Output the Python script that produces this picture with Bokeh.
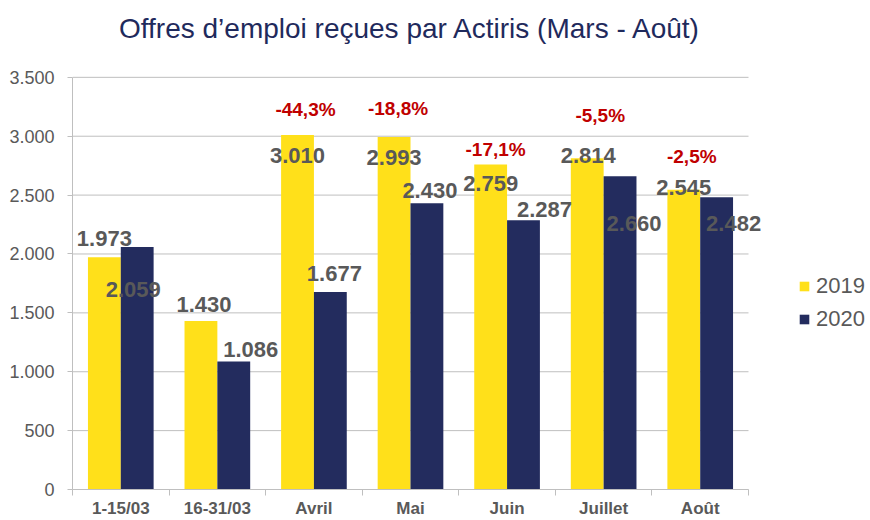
from bokeh.plotting import figure
from bokeh.models import (ColumnDataSource, LabelSet, Label, Range1d, FixedTicker,
                          Legend, LegendItem)
from bokeh.core.properties import value
from bokeh.embed import file_html
from bokeh.resources import INLINE

# ---- data ----
categories = ["1-15/03", "16-31/03", "Avril", "Mai", "Juin", "Juillet", "Août"]
values_2019 = [1973, 1430, 3010, 2993, 2759, 2814, 2545]
values_2020 = [2059, 1086, 1677, 2430, 2287, 2660, 2482]
pct_labels = ["", "", "-44,3%", "-18,8%", "-17,1%", "-5,5%", "-2,5%"]
y_ticks = [0, 500, 1000, 1500, 2000, 2500, 3000, 3500]
y_tick_labels = ["0", "500", "1.000", "1.500", "2.000", "2.500", "3.000", "3.500"]
series_names = ["2019", "2020"]
title_text = "Offres d\u2019emploi reçues par Actiris (Mars - Août)"

# ---- style / layout (label nudges in screen pixels, as in the original) ----
YELLOW = "#FFE01A"
NAVY = "#232C5E"
GREY_TXT = "#595959"
GRID = "#BFBFBF"
FONT = "Liberation Sans"
BAR_W = 0.34
W, H = 870, 520
FRAME_L, FRAME_R = 72, 748          # visible axis area in pixels (x)
AX_TOP, AX_BOTTOM = 77, 490         # visible axis area in pixels (y)
Y_MAX = 3500
lab19_dx = [0, 3, 0, 0, 0, 1, 0]
lab19_dy = [19, 17, -20, -20, -19, 3, 2]
lab20_dx = [-4, 17, 4, 3, 21, 14, 17]
lab20_dy = [-42, 12, 19, 13, 11, -47, -26]
pct_dx = [0, 0, 8, 4, 5, 13, 8]
pct_dy = [0, 0, 26, 29, 15, 43, 33]

def fmt(v):
    return f"{v:,}".replace(",", ".")

n = len(categories)
centers = [i + 0.5 for i in range(n)]
x19 = [c - BAR_W / 2 for c in centers]
x20 = [c + BAR_W / 2 for c in centers]
# the frame runs to the canvas right/top edges so that texts beyond the axis area are not clipped
x_end = n * (W - FRAME_L) / (FRAME_R - FRAME_L)
y_end = Y_MAX * AX_BOTTOM / (AX_BOTTOM - AX_TOP)

src19 = ColumnDataSource(dict(x=x19, top=values_2019, text=[fmt(v) for v in values_2019],
                              dx=lab19_dx, dy=lab19_dy))
src20 = ColumnDataSource(dict(x=x20, top=values_2020, text=[fmt(v) for v in values_2020],
                              dx=lab20_dx, dy=lab20_dy))
srcp = ColumnDataSource(dict(x=x19, top=values_2019, text=pct_labels, dx=pct_dx, dy=pct_dy))
srcg = ColumnDataSource(dict(y=y_ticks, x0=[0] * len(y_ticks), x1=[n] * len(y_ticks)))

p = figure(width=W, height=H, output_backend="svg", toolbar_location=None, title=None,
           x_range=Range1d(0, x_end), y_range=Range1d(0, y_end),
           min_border_left=FRAME_L, min_border_right=0, min_border_top=0,
           min_border_bottom=H - AX_BOTTOM, background_fill_color="white",
           border_fill_color="white", outline_line_color=None)

# title
p.add_layout(Label(x=n / 2, y=Y_MAX, y_offset=49, text=title_text, text_align="center",
                   text_baseline="middle", text_font=FONT, text_font_size="28px",
                   text_color="#1F2A5C"))

# horizontal gridlines, limited to the category area
p.segment(x0="x0", x1="x1", y0="y", y1="y", source=srcg, line_color=GRID, line_width=1)

r19 = p.vbar(x="x", top="top", width=BAR_W, source=src19, fill_color=YELLOW, line_color=None)
r20 = p.vbar(x="x", top="top", width=BAR_W, source=src20, fill_color=NAVY, line_color=None)

# axes
p.xaxis.bounds = (0, n)
p.xaxis.ticker = FixedTicker(ticks=centers, minor_ticks=list(range(n + 1)))
p.xaxis.major_label_overrides = {c: cat for c, cat in zip(centers, categories)}
p.xaxis.major_tick_out = 0
p.xaxis.major_tick_in = 0
p.xaxis.minor_tick_out = 6
p.xaxis.minor_tick_in = 0
p.xaxis.minor_tick_line_color = GRID
p.xaxis.axis_line_color = GRID
p.xaxis.major_label_text_font = FONT
p.xaxis.major_label_text_font_size = "17px"
p.xaxis.major_label_text_font_style = "bold"
p.xaxis.major_label_text_color = GREY_TXT
p.xaxis.major_label_standoff = 3

p.yaxis.bounds = (0, Y_MAX)
p.yaxis.ticker = FixedTicker(ticks=y_ticks)
p.yaxis.major_label_overrides = {t: l for t, l in zip(y_ticks, y_tick_labels)}
p.yaxis.major_tick_out = 5
p.yaxis.major_tick_in = 0
p.yaxis.minor_tick_line_color = None
p.yaxis.major_tick_line_color = GRID
p.yaxis.axis_line_color = GRID
p.yaxis.major_label_text_font = FONT
p.yaxis.major_label_text_font_size = "18px"
p.yaxis.major_label_text_color = GREY_TXT
p.yaxis.major_label_standoff = 13

p.xgrid.grid_line_color = None
p.ygrid.grid_line_color = None

# data labels
common = dict(x="x", y="top", text="text", x_offset="dx", y_offset="dy",
              text_align="center", text_baseline="middle", text_font=value(FONT),
              text_font_style="bold")
p.add_layout(LabelSet(source=src19, text_font_size="22px", text_color=GREY_TXT, **common))
p.add_layout(LabelSet(source=src20, text_font_size="22px", text_color=GREY_TXT, **common))
p.add_layout(LabelSet(source=srcp, text_font_size="19px", text_color="#C00000", **common))

legend = Legend(items=[LegendItem(label=series_names[0], renderers=[r19]),
                       LegendItem(label=series_names[1], renderers=[r20])],
                location=(726, 157), orientation="vertical",
                label_text_font=FONT, label_text_font_size="22px",
                label_text_color=GREY_TXT, glyph_width=12, glyph_height=12,
                label_standoff=6, spacing=7, padding=0, margin=0,
                border_line_color=None, background_fill_alpha=0, label_height=22)
p.add_layout(legend)

open("out.html", "w").write(file_html(p, INLINE))
